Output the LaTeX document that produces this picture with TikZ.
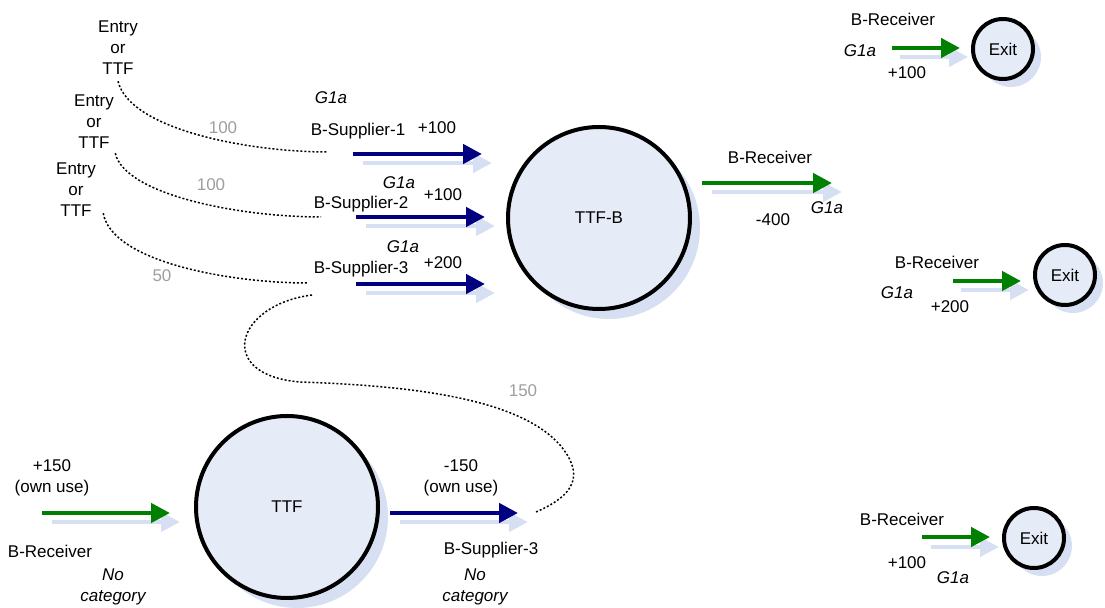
\documentclass[tikz,border=0pt]{standalone}
\usepackage{fontspec}
\setmainfont{Liberation Sans}
\usetikzlibrary{positioning, arrows.meta, shadows}
\definecolor{navyflow}{RGB}{0,0,128}
\definecolor{greenflow}{RGB}{0,128,0}
\definecolor{ghostblue}{RGB}{214,224,242}
\definecolor{poolfill}{RGB}{230,236,247}
\tikzstyle{flowtxt} = [font=\fontsize{8.5}{10.5}\selectfont, align=center, inner sep=0pt]
\tikzstyle{gradetxt} = [flowtxt, font=\fontsize{8.5}{10.5}\selectfont\itshape]
\tikzstyle{qtytxt} = [flowtxt, text=black!38]
\tikzstyle{pointnode} = [circle, draw=black, line width=2pt, fill=poolfill, flowtxt]
\tikzstyle{ttfnode} = [pointnode, minimum size=91pt, drop shadow={shadow xshift=5pt, shadow yshift=-5pt, fill=ghostblue, opacity=1}]
\tikzstyle{exitnode} = [pointnode, minimum size=30pt, drop shadow={shadow xshift=4pt, shadow yshift=-4pt, fill=ghostblue, opacity=1}]
\tikzstyle{flowarrow} = [line width=2.25pt, -{Triangle[length=9.5pt,width=9.5pt]}]
\tikzstyle{supplyarrow} = [flowarrow, draw=navyflow]
\tikzstyle{receivearrow} = [flowarrow, draw=greenflow]
\tikzstyle{ghostarrow} = [flowarrow, draw=ghostblue]
\tikzstyle{tracedline} = [dash pattern=on 1pt off 1pt, line width=0.75pt]

\begin{document}
\begin{tikzpicture}[x=0.5pt, y=-0.5pt]
\useasboundingbox (0,0) rectangle (1105,608);

% balancing points
\node (ttfb) [ttfnode] at (599,218) {TTF-B};
\node (ttf) [ttfnode] at (287,507) {TTF};
\node (exit1) [exitnode] at (1003,49) {Exit};
\node (exit2) [exitnode] at (1065,275) {Exit};
\node (exit3) [exitnode] at (1034,538) {Exit};

% entry points
\node (ent1) [flowtxt] at (118,48) {Entry\\or\\TTF};
\node (ent2) [flowtxt] at (94,122) {Entry\\or\\TTF};
\node (ent3) [flowtxt] at (76,190) {Entry\\or\\TTF};

% arrow ends
\coordinate (s1a) at (353,154); \coordinate (s1b) at (482,154);
\coordinate (s2a) at (356,217); \coordinate (s2b) at (485,217);
\coordinate (s3a) at (356,284); \coordinate (s3b) at (485,284);
\coordinate (r0a) at (702,183); \coordinate (r0b) at (832,183);
\coordinate (r1a) at (892,48);  \coordinate (r1b) at (960,48);
\coordinate (r2a) at (953,281); \coordinate (r2b) at (1021,281);
\coordinate (r3a) at (922,537); \coordinate (r3b) at (990,537);
\coordinate (owna) at (42,513); \coordinate (ownb) at (170,513);
\coordinate (ownc) at (390,513); \coordinate (ownd) at (518,513);

% shadows first
\draw [ghostarrow] ([shift={(10,9)}]s1a) -- ([shift={(10,9)}]s1b);
\draw [ghostarrow] ([shift={(10,9)}]s2a) -- ([shift={(10,9)}]s2b);
\draw [ghostarrow] ([shift={(10,9)}]s3a) -- ([shift={(10,9)}]s3b);
\draw [ghostarrow] ([shift={(10,9)}]r0a) -- ([shift={(10,9)}]r0b);
\draw [ghostarrow] ([shift={(8,9)}]r1a) -- ([shift={(8,9)}]r1b);
\draw [ghostarrow] ([shift={(8,9)}]r2a) -- ([shift={(8,9)}]r2b);
\draw [ghostarrow] ([shift={(9,10)}]r3a) -- ([shift={(9,10)}]r3b);
\draw [ghostarrow] ([shift={(10,9)}]owna) -- ([shift={(10,9)}]ownb);
\draw [ghostarrow] ([shift={(10,9)}]ownc) -- ([shift={(10,9)}]ownd);

\draw [supplyarrow] (s1a) -- (s1b);
\draw [supplyarrow] (s2a) -- (s2b);
\draw [supplyarrow] (s3a) -- (s3b);
\draw [receivearrow] (r0a) -- (r0b);
\draw [receivearrow] (r1a) -- (r1b);
\draw [receivearrow] (r2a) -- (r2b);
\draw [receivearrow] (r3a) -- (r3b);
\draw [receivearrow] (owna) -- (ownb);
\draw [supplyarrow] (ownc) -- (ownd);

% allocations
\coordinate (sup1in) at (328,152);
\coordinate (sup2in) at (321,217);
\coordinate (sup3in) at (308,283);
\coordinate (sup3out) at (312,295);
\coordinate (ownend) at (536,512);
\draw [tracedline] ([yshift=-3pt]ent1.south) .. controls (130,130) and (250,152) .. (sup1in);
\draw [tracedline] ([shift={(1,4)}]ent2.south east) .. controls (125,195) and (240,217) .. (sup2in);
\draw [tracedline] ([shift={(7,-4)}]ent3.south east) .. controls (112,262) and (230,283) .. (sup3in);
\draw [tracedline] (sup3out) .. controls (235,305) and (215,375) .. (300,382)
  .. controls (420,386) and (520,400) .. (560,445)
  .. controls (585,475) and (575,495) .. (ownend);

\node (q1) [qtytxt] at (223,128) {100};
\node (q2) [qtytxt] at (211,185) {100};
\node (q3) [qtytxt] at (162,276) {50};
\node (q4) [qtytxt] at (523,391) {150};

% supplier labels
\node (g1) [gradetxt] at (331,98) {G1a};
\node (bs1) [flowtxt] at (358,131) {B-Supplier-1};
\node (v1) [flowtxt] at (437,128) {+100};
\node (g2) [gradetxt] at (399,183) {G1a};
\node (bs2) [flowtxt] at (361,204) {B-Supplier-2};
\node (v2) [flowtxt] at (443,195) {+100};
\node (g3) [gradetxt] at (403,247) {G1a};
\node (bs3) [flowtxt] at (361,269) {B-Supplier-3};
\node (v3) [flowtxt] at (443,263) {+200};

% receiver labels
\node (br0) [flowtxt] at (770,157) {B-Receiver};
\node (w0) [flowtxt] at (773,220) {-400};
\node (g0) [gradetxt] at (827,208) {G1a};
\node (br1) [flowtxt] at (893,19) {B-Receiver};
\node (g4) [gradetxt] at (860,51) {G1a};
\node (w1) [flowtxt] at (907,73) {+100};
\node (br2) [flowtxt] at (937,262) {B-Receiver};
\node (g5) [gradetxt] at (897,293) {G1a};
\node (w2) [flowtxt] at (950,307) {+200};
\node (br3) [flowtxt] at (902,519) {B-Receiver};
\node (w3) [flowtxt] at (907,563) {+100};
\node (g6) [gradetxt] at (953,578) {G1a};

% own use
\node (ownin) [flowtxt] at (52,478) {+150\\(own use)};
\node (brown) [flowtxt] at (50,551) {B-Receiver};
\node (nc1) [gradetxt] at (113,587) {No\\category};
\node (ownout) [flowtxt] at (461,478) {-150\\(own use)};
\node (bsown) [flowtxt] at (491,550) {B-Supplier-3};
\node (nc2) [gradetxt] at (475,587) {No\\category};

\end{tikzpicture}
\end{document}
